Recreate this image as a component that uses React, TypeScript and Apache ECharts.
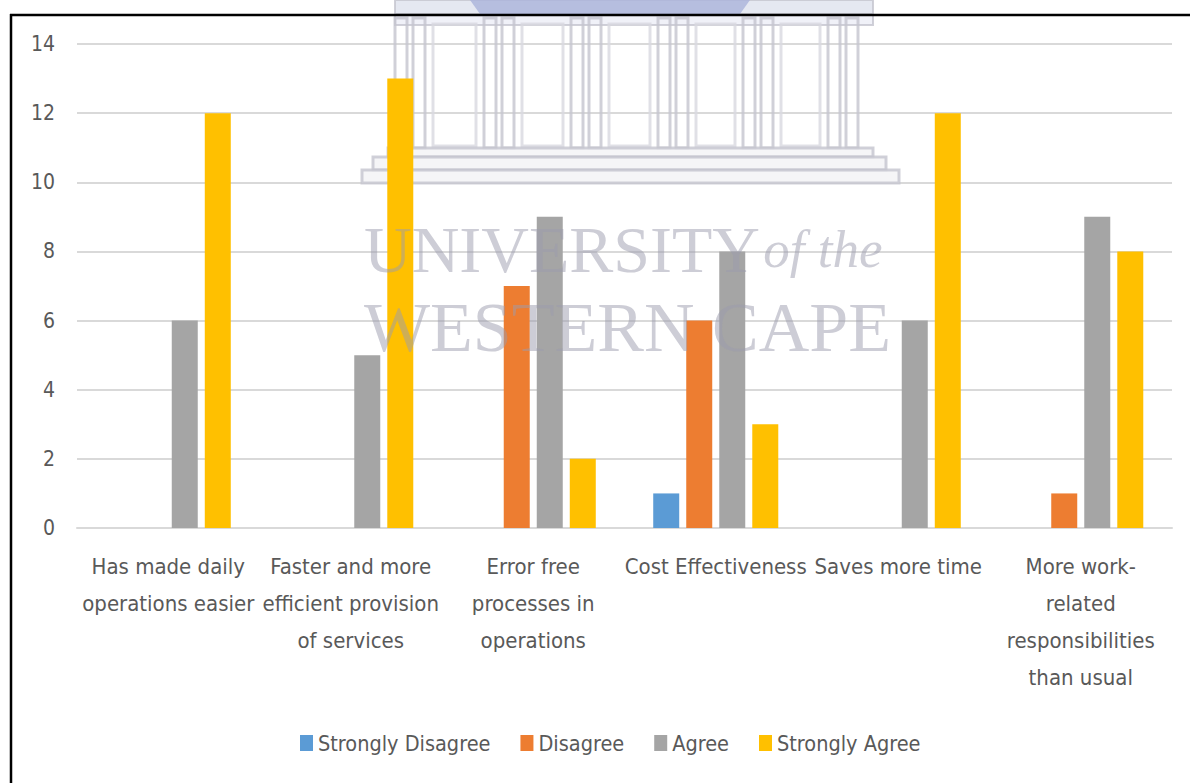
import React, { useEffect, useRef } from "react";
import * as echarts from "echarts";

const categories = [
  "Has made daily\noperations easier",
  "Faster and more\nefficient provision\nof services",
  "Error free\nprocesses in\noperations",
  "Cost Effectiveness",
  "Saves more time",
  "More work-\nrelated\nresponsibilities\nthan usual",
];
const seriesNames = ["Strongly Disagree", "Disagree", "Agree", "Strongly Agree"];
const stronglyDisagree = [0, 0, 0, 1, 0, 0];
const disagree = [0, 0, 7, 6, 0, 1];
const agree = [6, 5, 9, 8, 6, 9];
const stronglyAgree = [12, 13, 2, 3, 12, 8];
const colors = ["#5B9BD5", "#ED7D31", "#A5A5A5", "#FFC000"];

const FONT = "'Liberation Sans Narrow', 'DejaVu Sans Condensed', 'Liberation Sans', sans-serif";
const SERIF = "'Liberation Serif', 'DejaVu Serif', serif";

function buildingGraphics(): any[] {
  const els: any[] = [];
  const stroke = "#c4c4ce";
  els.push({ type: "rect", shape: { x: 395, y: 0, width: 478, height: 14 }, style: { fill: "#dfe2ee", stroke, lineWidth: 2 }, z: 1 });
  els.push({ type: "polygon", shape: { points: [[470, 0], [750, 0], [740, 14], [480, 14]] }, style: { fill: "#aab3db" }, z: 1 });
  els.push({ type: "rect", shape: { x: 395, y: 15, width: 478, height: 10 }, style: { fill: "#eceef6", stroke, lineWidth: 2 }, z: 1 });
  const cols = [395, 484, 571, 658, 743, 828];
  cols.forEach((cx, i) => {
    els.push({ type: "rect", shape: { x: cx, y: 18, width: 12, height: 130 }, style: { fill: "none", stroke, lineWidth: 3 }, z: 1 });
    els.push({ type: "rect", shape: { x: cx + 18, y: 18, width: 12, height: 130 }, style: { fill: "none", stroke, lineWidth: 3 }, z: 1 });
    if (i < cols.length - 1) {
      const nx = cols[i + 1];
      els.push({ type: "rect", shape: { x: cx + 38, y: 24, width: nx - cx - 46, height: 122 }, style: { fill: "none", stroke: "#d8d8e0", lineWidth: 3 }, z: 1 });
    }
  });
  els.push({ type: "rect", shape: { x: 388, y: 148, width: 485, height: 9 }, style: { fill: "#f2f2f5", stroke, lineWidth: 3 }, z: 1 });
  els.push({ type: "rect", shape: { x: 373, y: 157, width: 513, height: 13 }, style: { fill: "#f2f2f5", stroke, lineWidth: 3 }, z: 1 });
  els.push({ type: "rect", shape: { x: 362, y: 170, width: 537, height: 13 }, style: { fill: "#f2f2f5", stroke, lineWidth: 3 }, z: 1 });
  return els;
}

export default function App() {
  const ref = useRef<HTMLDivElement>(null);
  useEffect(() => {
    if (!ref.current) return;
    const chart = echarts.init(ref.current, undefined, { renderer: "svg" });
    const dataSets = [stronglyDisagree, disagree, agree, stronglyAgree];
    chart.setOption({
      animation: false,
      backgroundColor: "#ffffff",
      grid: { left: 77, right: 18, top: 44, bottom: 255, containLabel: false },
      legend: {
        data: seriesNames,
        left: 295,
        top: 727,
        itemWidth: 13,
        itemHeight: 16,
        itemGap: 30,
        icon: "rect",
        textStyle: { fontFamily: FONT, fontSize: 21.5, color: "#595959" },
      },
      xAxis: {
        type: "category",
        data: categories,
        axisLine: { show: true, lineStyle: { color: "#d9d9d9", width: 2 } },
        axisTick: { show: false },
        axisLabel: {
          interval: 0,
          margin: 20,
          fontFamily: FONT,
          fontSize: 22,
          lineHeight: 37,
          color: "#595959",
        },
      },
      yAxis: {
        type: "value",
        min: 0,
        max: 14,
        interval: 2,
        axisLine: { show: false },
        axisTick: { show: false },
        splitLine: { lineStyle: { color: "#d9d9d9", width: 2 } },
        axisLabel: { margin: 22, fontFamily: FONT, fontSize: 21, color: "#595959" },
      },
      series: seriesNames.map((name, i) => ({
        name,
        type: "bar",
        data: dataSets[i],
        barWidth: 26,
        barGap: "27%",
        itemStyle: { color: colors[i] },
        z: 2,
      })),
      graphic: [
        ...buildingGraphics().map((e) => ({ ...e, style: { ...e.style, opacity: 0.8 } })),
        {
          type: "text",
          x: 364,
          y: 216,
          z: 100,
          style: {
            text: "{a|UNIVERSITY} {b|of the}",
            rich: {
              a: { fontFamily: SERIF, fontSize: 66, fill: "#9c9cae" },
              b: { fontFamily: SERIF, fontSize: 53, fontStyle: "italic", fill: "#9c9cae" },
            },
            opacity: 0.5,
          },
        },
        {
          type: "text",
          x: 364,
          y: 292,
          z: 100,
          style: {
            text: "WESTERN CAPE",
            fontFamily: SERIF,
            fontSize: 70,
            fill: "#9c9cae",
            opacity: 0.5,
          },
        },
        {
          type: "line",
          shape: { x1: 10, y1: 15, x2: 1190, y2: 15 },
          style: { stroke: "#000000", lineWidth: 2.5 },
          z: 200,
        },
        {
          type: "line",
          shape: { x1: 11, y1: 14, x2: 11, y2: 783 },
          style: { stroke: "#000000", lineWidth: 2.5 },
          z: 200,
        },
      ],
    });
    return () => chart.dispose();
  }, []);
  return (
    <div
      ref={ref}
      style={{ position: "fixed", left: 0, top: 0, width: 1190, height: 783, background: "#fff" }}
    />
  );
}
